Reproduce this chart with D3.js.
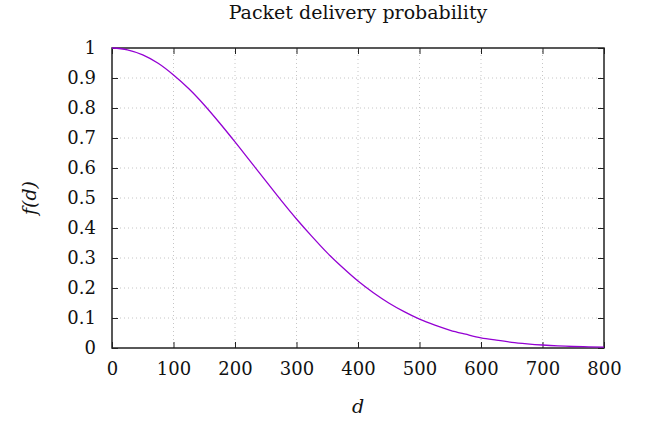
<!DOCTYPE html>
<html>
<head>
<meta charset="utf-8">
<script src="https://cdn.jsdelivr.net/npm/d3@7"></script>
<style>
  body { margin: 0; background: #fff; }
  svg text { font-family: "DejaVu Serif", serif !important; fill: #111; }
</style>
</head>
<body>
<svg id="chart"></svg>
<script>
// values
const distances = [0, 25, 50, 75, 100, 125, 150, 175, 200, 225, 250, 275, 300, 325, 350, 375, 400,
                   425, 450, 475, 500, 525, 550, 575, 600, 625, 650, 675, 700, 725, 750, 775, 800];
const probs = [1.0, 0.994, 0.977, 0.949, 0.91, 0.864, 0.81, 0.75, 0.687, 0.622, 0.557, 0.492, 0.43,
               0.372, 0.317, 0.268, 0.223, 0.184, 0.150, 0.121, 0.096, 0.076, 0.059, 0.046, 0.034,
               0.026, 0.019, 0.014, 0.010, 0.007, 0.005, 0.004, 0.003];
const xTicks = [0, 100, 200, 300, 400, 500, 600, 700, 800];
const yTicks = [0, 0.1, 0.2, 0.3, 0.4, 0.5, 0.6, 0.7, 0.8, 0.9, 1];

const width = 645, height = 421;
const margin = { top: 48, right: 41, bottom: 73, left: 112 };
const svg = d3.select("#chart").attr("width", width).attr("height", height);

const x = d3.scaleLinear().domain([0, 800]).range([margin.left, width - margin.right]);
const y = d3.scaleLinear().domain([0, 1]).range([height - margin.bottom, margin.top]);

const tickLen = 6;
const fontSize = "18px";

// grid
svg.append("g").selectAll("line")
   .data(xTicks.slice(1, -1))
   .join("line")
   .attr("x1", d => x(d)).attr("x2", d => x(d))
   .attr("y1", y(0)).attr("y2", y(1))
   .attr("stroke", "#b8b8b8")
   .attr("stroke-width", 0.8)
   .attr("stroke-dasharray", "1,3");

svg.append("g").selectAll("line")
   .data(yTicks.slice(1, -1))
   .join("line")
   .attr("x1", x(0)).attr("x2", x(800))
   .attr("y1", d => y(d)).attr("y2", d => y(d))
   .attr("stroke", "#b8b8b8")
   .attr("stroke-width", 0.8)
   .attr("stroke-dasharray", "1,3");

// axes with inward ticks, mirrored
svg.append("g")
   .attr("transform", `translate(0,${y(0)})`)
   .call(d3.axisBottom(x).tickValues(xTicks).tickSize(-tickLen).tickPadding(14).tickFormat(d3.format("d")))
   .call(g => g.select(".domain").remove())
   .call(g => g.selectAll("text").style("font-size", fontSize));

svg.append("g")
   .attr("transform", `translate(0,${y(1)})`)
   .call(d3.axisTop(x).tickValues(xTicks).tickSize(-tickLen).tickFormat(""))
   .call(g => g.select(".domain").remove());

svg.append("g")
   .attr("transform", `translate(${x(0)},0)`)
   .call(d3.axisLeft(y).tickValues(yTicks).tickSize(-tickLen).tickPadding(16).tickFormat(d3.format("")))
   .call(g => g.select(".domain").remove())
   .call(g => g.selectAll("text").style("font-size", fontSize));

svg.append("g")
   .attr("transform", `translate(${x(800)},0)`)
   .call(d3.axisRight(y).tickValues(yTicks).tickSize(-tickLen).tickFormat(""))
   .call(g => g.select(".domain").remove());

svg.selectAll(".tick line").attr("stroke", "#222").attr("stroke-width", 1);

// border
svg.append("rect")
   .attr("x", x(0)).attr("y", y(1))
   .attr("width", x(800) - x(0)).attr("height", y(0) - y(1))
   .attr("fill", "none")
   .attr("stroke", "#222")
   .attr("stroke-width", 1.5);

// curve
const line = d3.line()
   .x((d, i) => x(distances[i]))
   .y(d => y(d))
   .curve(d3.curveMonotoneX);

svg.append("path")
   .datum(probs)
   .attr("d", line)
   .attr("fill", "none")
   .attr("stroke", "#9400d3")
   .attr("stroke-width", 1.3);

// title and labels
svg.append("text")
   .attr("x", (x(0) + x(800)) / 2).attr("y", 19)
   .attr("text-anchor", "middle")
   .style("font-size", "19px")
   .text("Packet delivery probability");

svg.append("text")
   .attr("x", (x(0) + x(800)) / 2).attr("y", 413)
   .attr("text-anchor", "middle")
   .style("font-size", "19px")
   .attr("font-style", "italic")
   .text("d");

svg.append("text")
   .attr("transform", `translate(36,${(y(0) + y(1)) / 2}) rotate(-90)`)
   .attr("text-anchor", "middle")
   .style("font-size", "19px")
   .attr("font-style", "italic")
   .text("f(d)");
</script>
</body>
</html>
